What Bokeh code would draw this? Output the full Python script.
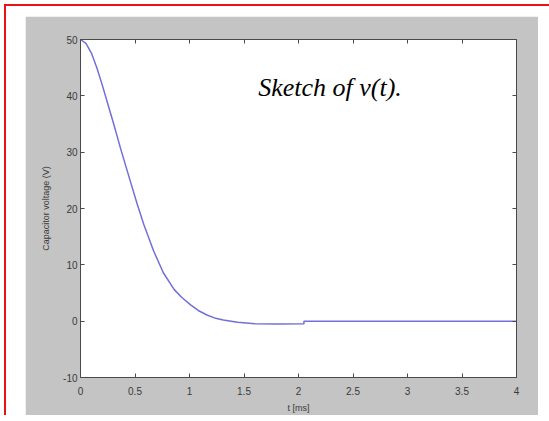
from bokeh.plotting import figure
from bokeh.models import LinearAxis, Label, Spacer, FixedTicker
from bokeh.layouts import column, row
from bokeh.embed import file_html
from bokeh.resources import INLINE

# Data
t_ms = [0, 0.05, 0.1, 0.15, 0.2, 0.25, 0.3, 0.37, 0.45, 0.52, 0.58, 0.67, 0.76,
        0.86, 0.93, 1.01, 1.08, 1.16, 1.24, 1.31, 1.44, 1.6, 1.8, 2.05, 2.05, 4.0]
v_volts = [50, 49.3, 47.6, 45.0, 41.9, 38.6, 35.3, 30.5, 25.3, 20.8, 17.2, 12.5, 8.6,
           5.6, 4.2, 2.9, 1.9, 1.1, 0.5, 0.2, -0.2, -0.45, -0.5, -0.45, 0, 0]

x_ticks = [0, 0.5, 1, 1.5, 2, 2.5, 3, 3.5, 4]
x_tick_labels = ["0", "0.5", "1", "1.5", "2", "2.5", "3", "3.5", "4"]
y_ticks = [-10, 0, 10, 20, 30, 40, 50]
y_tick_labels = ["-10", "0", "10", "20", "30", "40", "50"]

x_label = "t [ms]"
y_label = "Capacitor voltage (V)"
annotation_text = "Sketch of v(t)."

GRAY = "#c4c4c4"
AXC = "#4a4a4a"

p = figure(width=513, height=399, x_range=(0, 4), y_range=(-10, 50),
           output_backend="svg", toolbar_location=None,
           x_axis_location=None, y_axis_location=None,
           min_border_left=55, min_border_right=22, min_border_top=23, min_border_bottom=37,
           border_fill_color=GRAY, background_fill_color="white",
           outline_line_color=None)
p.grid.visible = False


def style_axis(ax, labels):
    ax.axis_line_color = AXC
    ax.major_tick_line_color = AXC
    ax.major_tick_in = 4
    ax.major_tick_out = 0
    ax.minor_tick_line_color = None
    ax.major_label_text_font = "Liberation Sans"
    ax.major_label_text_font_size = "10px"
    ax.major_label_text_color = "#3a3a3a"
    ax.axis_label_text_font = "Liberation Sans"
    ax.axis_label_text_font_size = "9px"
    ax.axis_label_text_font_style = "normal"
    ax.axis_label_text_color = "#3a3a3a"
    if not labels:
        ax.major_label_text_color = None
        ax.major_label_text_font_size = "0px"
        ax.major_label_standoff = 0


left = LinearAxis(ticker=FixedTicker(ticks=y_ticks), axis_label=y_label,
                  major_label_overrides=dict(zip(y_ticks, y_tick_labels)))
style_axis(left, True)
left.major_label_standoff = 3
left.axis_label_standoff = 9
p.add_layout(left, "left")

right = LinearAxis(ticker=FixedTicker(ticks=y_ticks))
style_axis(right, False)
p.add_layout(right, "right")

below = LinearAxis(ticker=FixedTicker(ticks=x_ticks), axis_label=x_label,
                   major_label_overrides=dict(zip(x_ticks, x_tick_labels)))
style_axis(below, True)
below.major_label_standoff = 9
below.axis_label_standoff = 5
p.add_layout(below, "below")

above = LinearAxis(ticker=FixedTicker(ticks=x_ticks))
style_axis(above, False)
p.add_layout(above, "above")

p.line(t_ms, v_volts, line_color="#7070d8", line_width=1.5)

p.add_layout(Label(x=1.63, y=41.5, text=annotation_text,
                   text_font="Liberation Serif", text_font_style="italic",
                   text_font_size="26px", text_color="black",
                   text_baseline="alphabetic"))

layout = column(Spacer(width=543, height=10),
                row(Spacer(width=19, height=399), p),
                styles={"border-left": "2px solid #ee1111",
                        "border-top": "2px solid #ee1111",
                        "margin-left": "4px", "margin-top": "4px",
                        "background-color": "white"})

open("out.html", "w").write(file_html(layout, INLINE))
